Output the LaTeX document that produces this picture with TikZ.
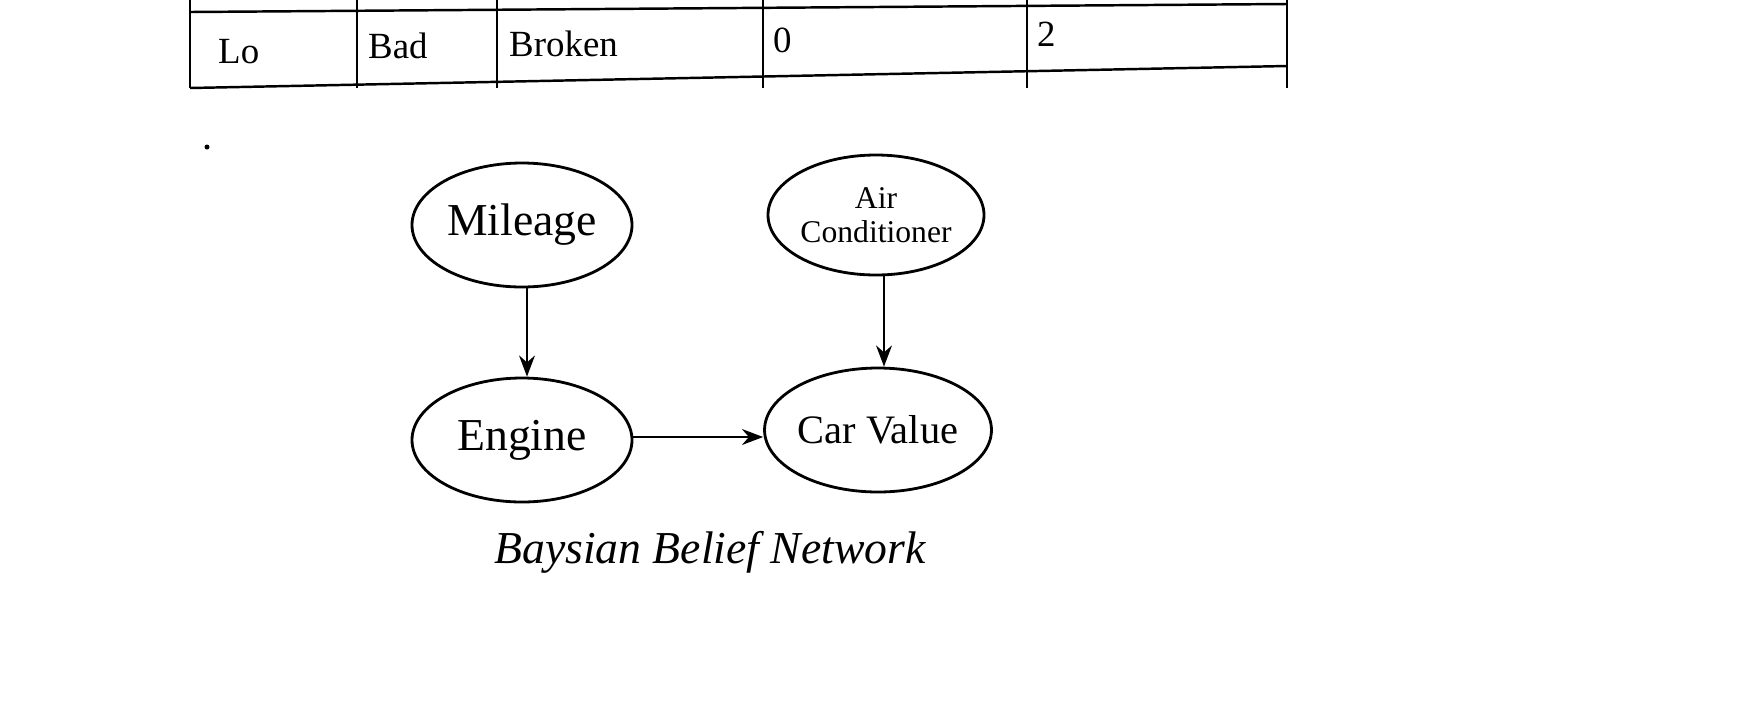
\documentclass[tikz,border=0pt]{standalone}
\usepackage{fontspec}
\setmainfont{Liberation Serif}
\usetikzlibrary{arrows.meta,shapes.geometric}
\begin{document}
\begin{tikzpicture}[x=0.02cm,y=-0.02cm,
  ar/.style={-{Stealth[length=12pt,width=9pt]},line width=1.6pt},
  tl/.style={line width=1.4pt},
  tt/.style={font=\fontsize{21}{23}\selectfont,anchor=west},
  el/.style={draw,ellipse,line width=1.6pt,minimum width=220*0.02cm,minimum height=124*0.02cm,inner sep=0pt}]
\useasboundingbox (0,0) rectangle (1754,718);
% table
\draw[tl] (190,12) -- (1287,4);
\draw[tl] (190,88) -- (1287,66);
\foreach \x in {190,357,497,763,1027,1287} \draw[tl] (\x,0) -- (\x,88);
\node[tt] (c1) at (212,52) {Lo};
\node[tt] (c2) at (362,46) {Bad};
\node[tt] (c3) at (503,44) {Broken};
\node[tt] (c4) at (767,40) {0};
\node[tt] (c5) at (1031,34) {2};
\fill (207,147) circle (2.5);
% nodes
\node[el,font=\fontsize{26}{28}\selectfont] (m) at (522,225) {Mileage};
\node[el,minimum width=216*0.02cm,minimum height=120*0.02cm,font=\fontsize{18}{19}\selectfont,align=center] (a) at (876,215) {Air\\Conditioner};
\node[el,font=\fontsize{26}{28}\selectfont] (e) at (522,440) {Engine};
\node[el,minimum width=216*0.02cm,font=\fontsize{23}{25}\selectfont] (c) at (878,430) {Car Value};
\draw[ar] (m.south) ++(5,0) coordinate (ms) -- (ms |- e.north);
\draw[ar] (a.south) ++(8,0) coordinate (as) -- (as |- c.north);
\draw[ar] ([yshift=3*0.02cm]e.east) coordinate (es) -- (c.west |- es);
\node[font=\itshape\fontsize{26}{28}\selectfont] (cap) at (710,552) {Baysian Belief Network};
\end{tikzpicture}
\end{document}
